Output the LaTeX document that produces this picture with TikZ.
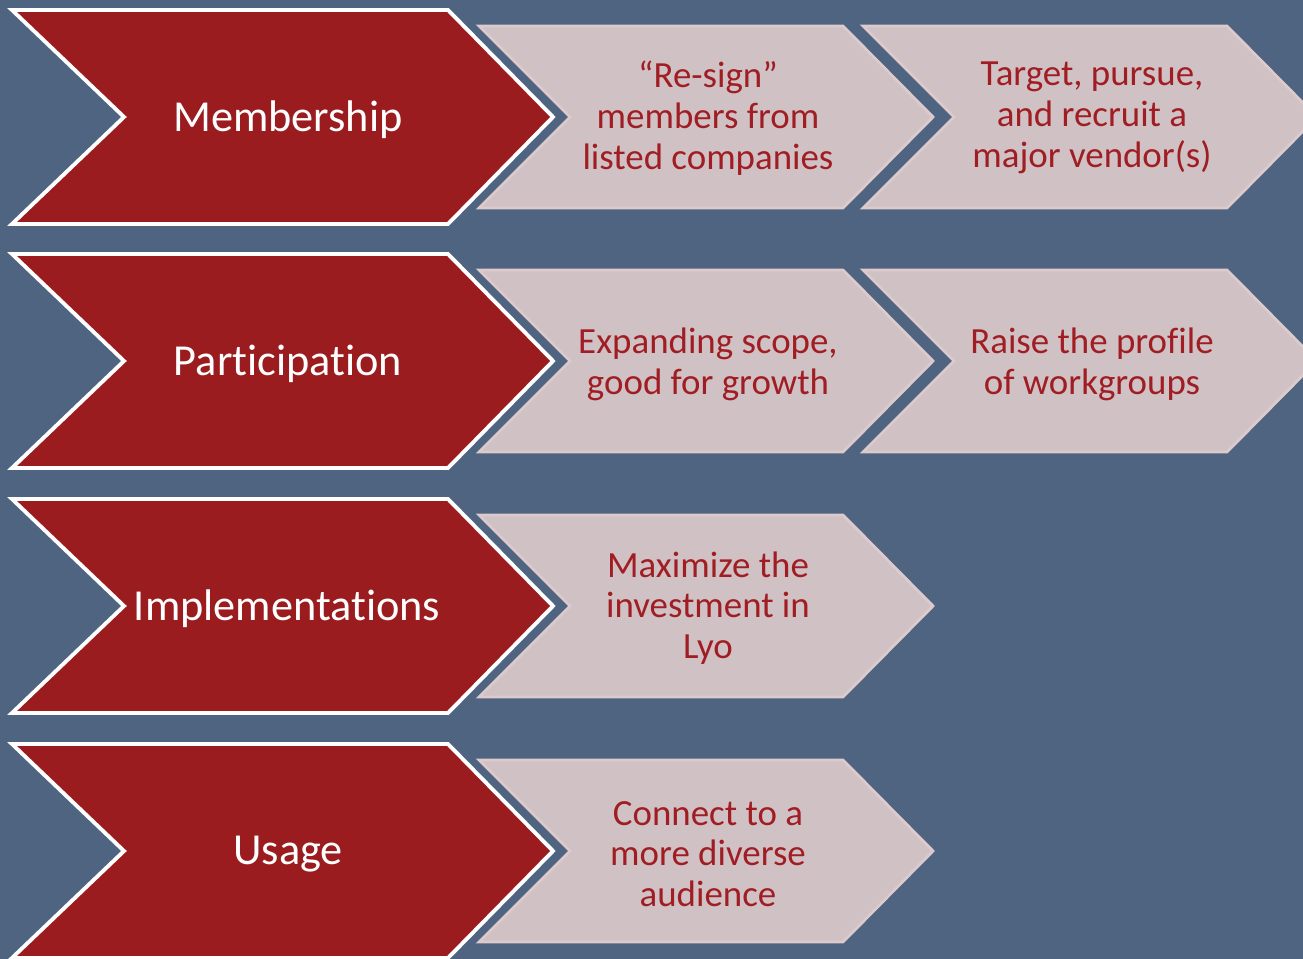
\documentclass[tikz,border=0pt]{standalone}
\usepackage{fontspec}
\setmainfont{Carlito}[Ligatures=NoCommon]
\usepackage{tikz}
\usetikzlibrary{calc}
\definecolor{slate}{HTML}{4E6480}
\definecolor{darkred}{HTML}{9B1C1F}
\definecolor{rose}{HTML}{D0C1C5}
\definecolor{roseedge}{HTML}{DCCACD}
\definecolor{rosetext}{HTML}{A01E23}
\newcommand{\nolig}{\kern0pt}
\tikzset{
  redchev/.style={fill=darkred, draw=white, line width=2.2pt, line join=miter},
  rosechev/.style={fill=rose, draw=roseedge, line width=1.6pt, line join=miter},
  headtext/.style={text=white, font=\fontsize{25.2}{30}\selectfont},
  itemtext/.style={text=rosetext, align=center, font=\fontsize{21}{23.2}\selectfont}
}

\begin{document}
\begin{tikzpicture}[x=0.02cm, y=-0.02cm]
        \useasboundingbox (0,0) rectangle (1303,959);
        \fill[slate] (0,0) rectangle (1303,959);
        \begin{scope}
        \clip (0,0) rectangle (1303,959);

        % light chevrons
        \draw[rosechev] (479,26)--(843,26)--(933,117)--(843,208)--(479,208)--(570,117)--cycle;
        \draw[rosechev] (863,26)--(1227,26)--(1317,117)--(1227,208)--(863,208)--(954,117)--cycle;
        \draw[rosechev] (479,270)--(843,270)--(933,361)--(843,452)--(479,452)--(570,361)--cycle;
        \draw[rosechev] (863,270)--(1227,270)--(1317,361)--(1227,452)--(863,452)--(954,361)--cycle;
        \draw[rosechev] (479,515)--(843,515)--(933,606)--(843,697)--(479,697)--(570,606)--cycle;
        \draw[rosechev] (479,760)--(843,760)--(933,851)--(843,942)--(479,942)--(570,851)--cycle;

        % red chevrons
        \draw[redchev] (12,10)--(448,10)--(553,117)--(448,224)--(12,224)--(124,117)--cycle;
        \draw[redchev] (12,254)--(448,254)--(553,361)--(448,468)--(12,468)--(124,361)--cycle;
        \draw[redchev] (12,499)--(448,499)--(553,606)--(448,713)--(12,713)--(124,606)--cycle;
        \draw[redchev] (12,744)--(448,744)--(553,851)--(448,958)--(12,958)--(124,851)--cycle;
        \end{scope}

        \node[headtext] (member) at (288,120) {Membership};
        \node[headtext] (partic) at (288,364) {Participat\nolig ion};
        \node[headtext] (implem) at (287,609) {Implementat\nolig ions};
        \node[headtext] (usage) at (288,854) {Usage};

        \node[itemtext] (resign) at (708,118) {“Re-sign”\\members from\\listed companies};
        \node[itemtext] (vendor) at (1092,118) {Target, pursue,\\and recruit a\\major vendor(s)};
        \node[itemtext] (scope) at (708,364) {Expanding scope,\\good for growth};
        \node[itemtext] (profile) at (1092,364) {Raise the profile\\of workgroups};
        \node[itemtext] (invest) at (708,608) {Maximize the\\investment in\\Lyo};
        \node[itemtext] (audience) at (708,854) {Connect to a\\more diverse\\audience};
    \end{tikzpicture}
\end{document}
